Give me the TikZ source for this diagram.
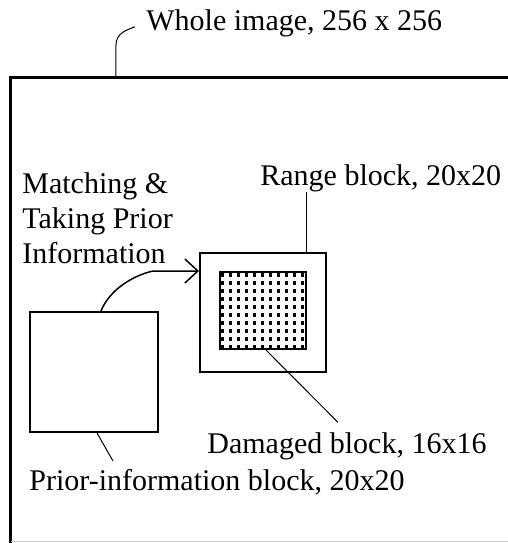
\documentclass[tikz,border=0pt]{standalone}
\usepackage{fontspec}
\setmainfont{Liberation Serif}
\usetikzlibrary{arrows.meta}

\begin{document}
\begin{tikzpicture}[x=0.5pt, y=-0.5pt,
		>={Straight Barb[length=6.5pt,width=12pt]},   %offene Pfeilspitze
		font=\fontsize{15}{17.5}\selectfont,
		blockbox/.style={draw, line width=1pt, inner sep=0pt},
		labeltext/.style={inner sep=0pt, anchor=base west},
		leader/.style={line width=0.5pt}]
		%Bildbereich
		\useasboundingbox (0,0) rectangle (508,543);
		% Rahmen des Gesamtbildes
		\draw[line width=1.5pt] (11,543) -- (11,77) -- (508,77);
		\draw[gray!40, line width=0.5pt] (11,541) -- (508,541);
		\coordinate (wholefoot) at (116,77);
		% Bloecke
		\node[blockbox, minimum width=63pt, minimum height=59.5pt] (range) at (263,312.5) {};
		\node[blockbox, minimum width=43pt, minimum height=38.5pt] (damaged) at (263,310.5) {};
		\node[blockbox, minimum width=64pt, minimum height=60pt] (prior) at (94,372) {};
		% Punktraster im beschaedigten Block
		\foreach \i in {0,...,10} \foreach \j in {0,...,9} \fill (221+8*\i,273+8*\j) rectangle ++(3.5,3.5);
		% Beschriftungen
		\node[labeltext] (whole) at (146,30) {Whole image, 256 x 256};
		\node[labeltext] (rangelabel) at (260,185) {Range block, 20x20};
		\node[labeltext] (damagedlabel) at (207,453) {Damaged block, 16x16};
		\node[labeltext] (priorlabel) at (29,490) {Prior-information block, 20x20};
		\node[labeltext, align=left] (matching) at (22,263) {Matching \&\\Taking Prior\\Information};
		% Hinweislinien
		\draw[leader] (wholefoot) -- ++(0,-32) .. controls +(0,-12) and +(-8,3) .. ([shift={(-11,4)}]whole.west);
		\draw[leader] ([xshift=-10pt]range.north east) -- ([xshift=-10pt]range.north east |- rangelabel.south);
		\draw[leader] ([xshift=1.5pt]damaged.south) -- ([shift={(-9,-9.5)}]damagedlabel.north);
		\draw[leader] ([xshift=1.5pt]prior.south) -- ([shift={(84,-7.5)}]priorlabel.north west);
		% Pfeil: Matching
		\draw[line width=0.75pt,->] ([xshift=3.5pt]prior.north) .. controls +(8,-20) and +(-22,5) .. ++(52,-40) -- (range.west |- damaged.north);
	\end{tikzpicture}
\end{document}
